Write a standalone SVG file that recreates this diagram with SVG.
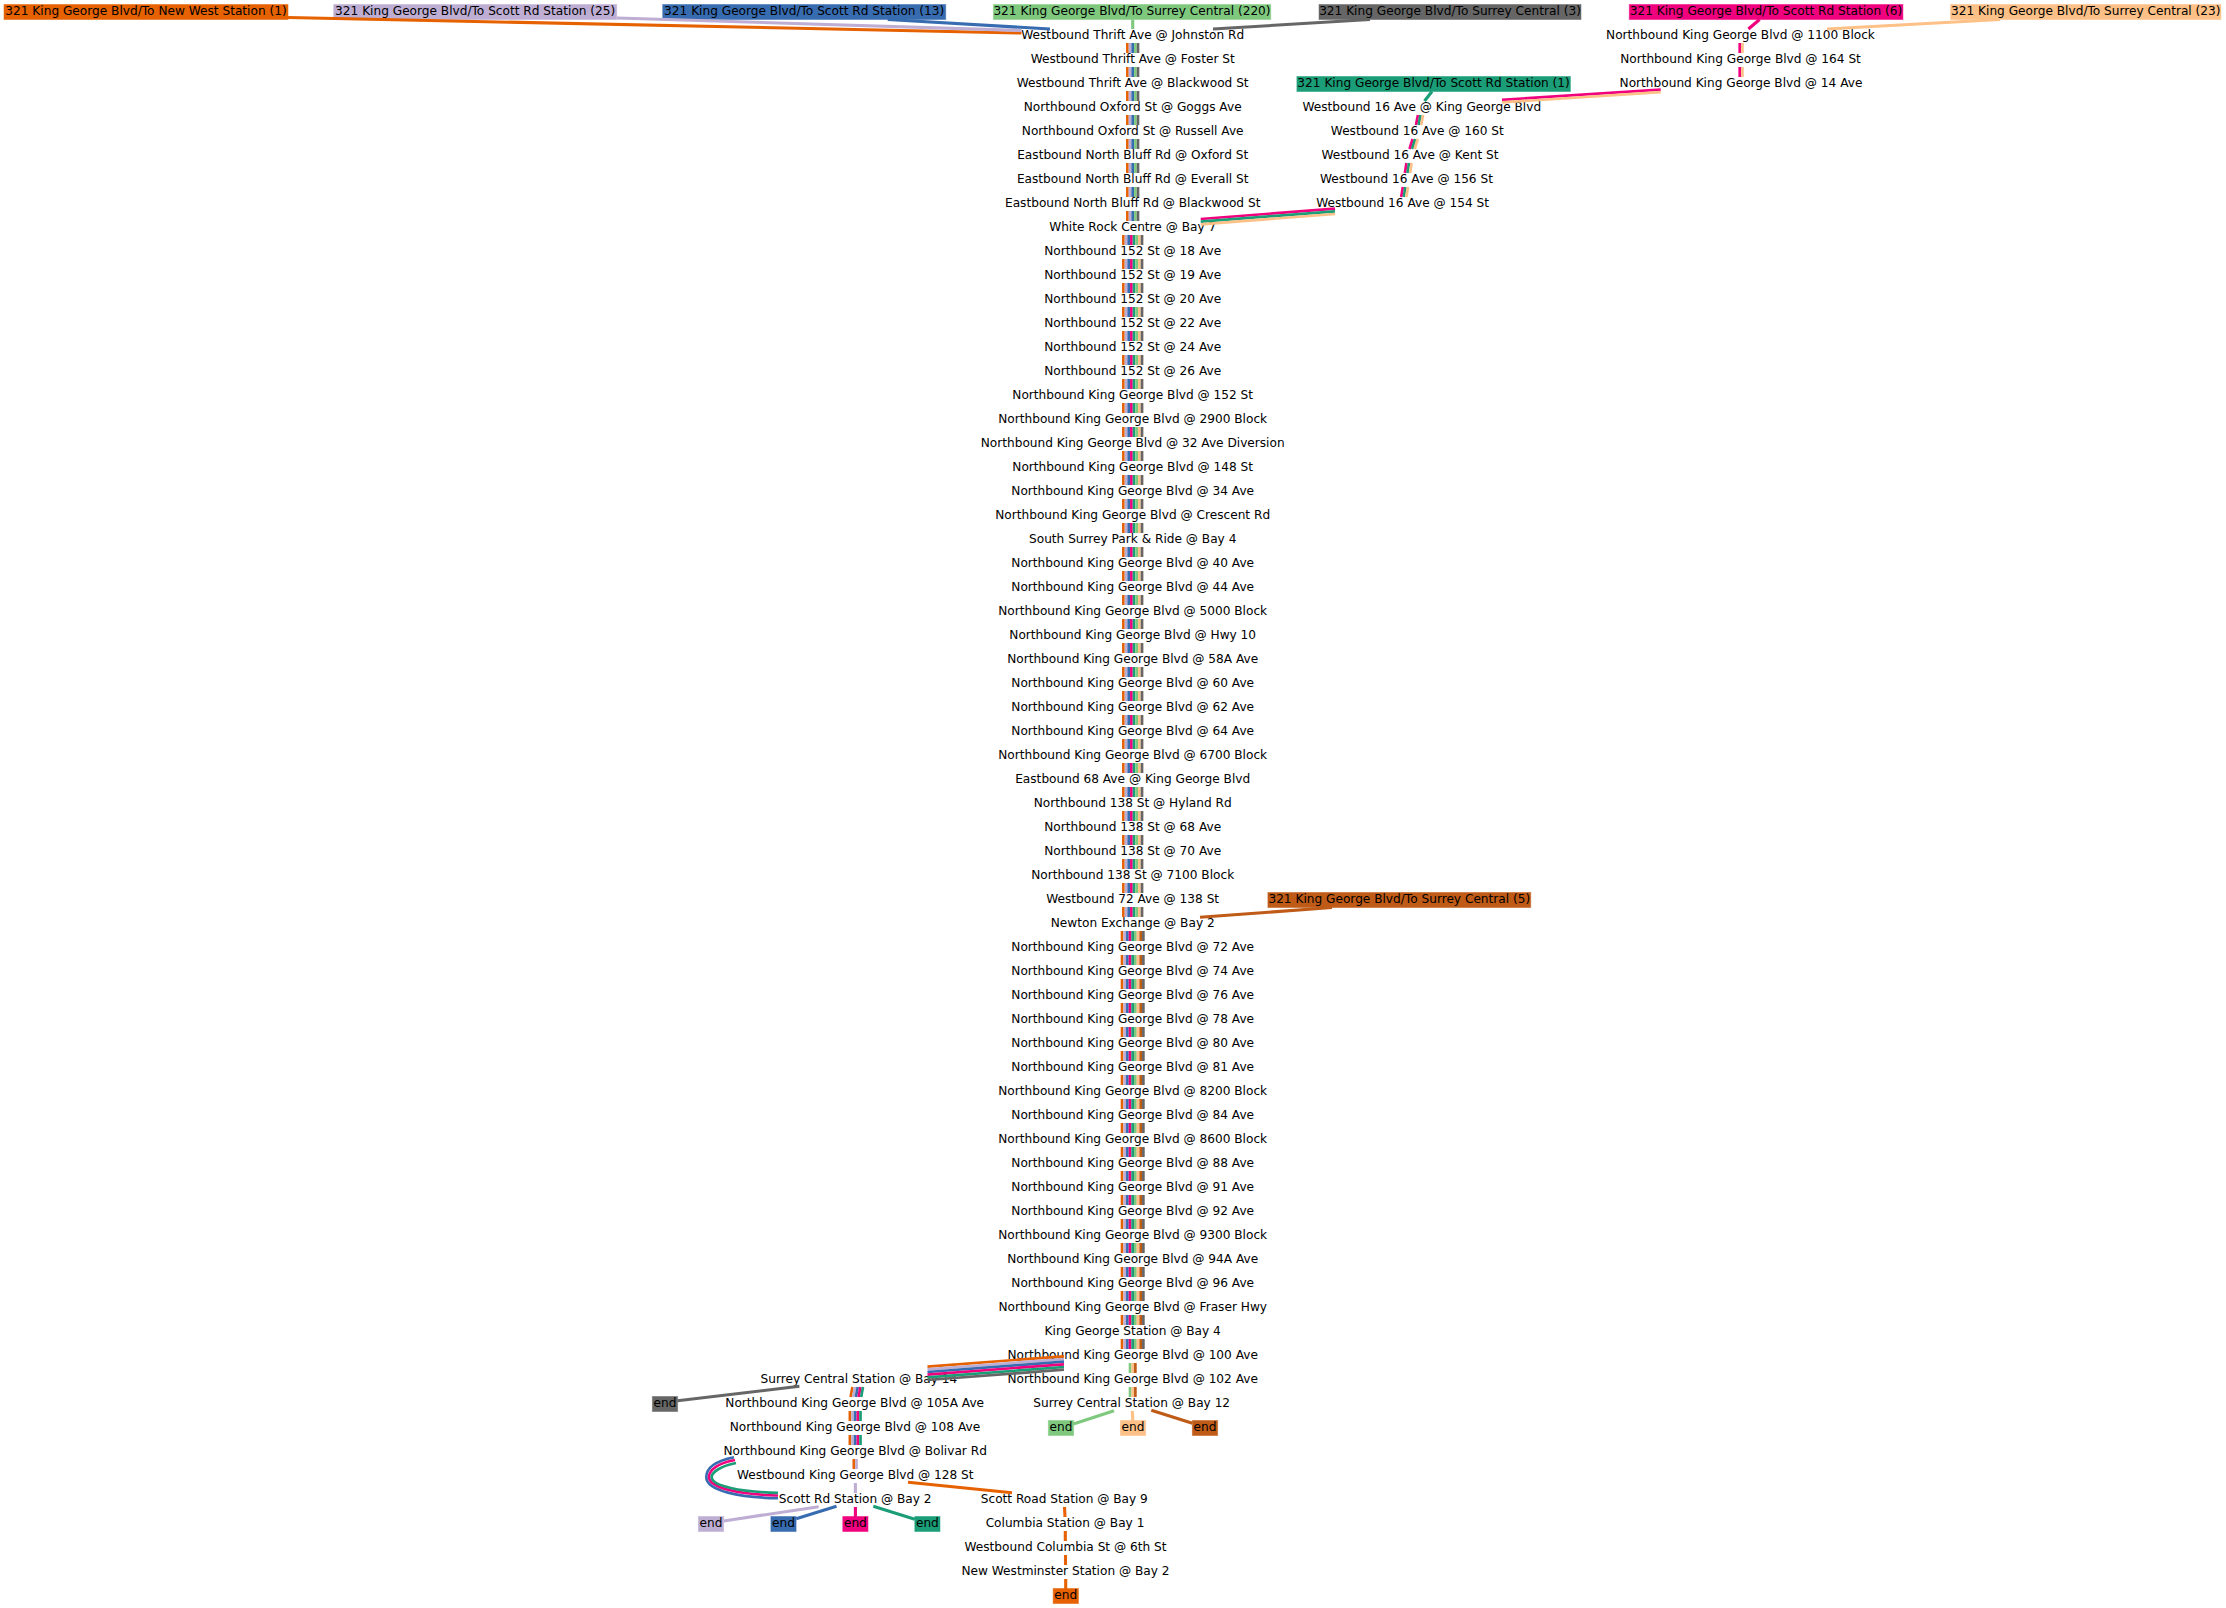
<svg xmlns="http://www.w3.org/2000/svg" width="2226" height="1608" viewBox="0 0 2226 1608">
<style>
text{font-family:"DejaVu Sans",sans-serif;font-size:12.15px;fill:#000;text-anchor:middle;transform:translateY(-.8px)}
line,path{stroke-width:2.67;fill:none}
.w{stroke-width:3.1}
rect{stroke-width:1;stroke-opacity:.5}
.o{stroke:#e66100}.l{stroke:#beaed4}.b{stroke:#386cb0}.g{stroke:#7fc97f}.k{stroke:#666666}.p{stroke:#f0027f}.t{stroke:#1b9e77}.h{stroke:#fdc086}.n{stroke:#bf5b17}
.fo{fill:#e66100;stroke:#e66100}.fl{fill:#beaed4;stroke:#beaed4}.fb{fill:#386cb0;stroke:#386cb0}.fg{fill:#7fc97f;stroke:#7fc97f}.fk{fill:#666666;stroke:#666666}.fp{fill:#f0027f;stroke:#f0027f}.ft{fill:#1b9e77;stroke:#1b9e77}.fh{fill:#fdc086;stroke:#fdc086}.fn{fill:#bf5b17;stroke:#bf5b17}
</style>
<defs>
<g id="s5"><line class="o" x1="1127.37" x2="1127.37" y2="10"/><line class="l" x1="1130.03" x2="1130.03" y2="10"/><line class="b" x1="1132.7" x2="1132.7" y2="10"/><line class="g" x1="1135.37" x2="1135.37" y2="10"/><line class="k" x1="1138.03" x2="1138.03" y2="10"/></g>
<g id="s8"><line class="o" x1="1123.37" x2="1123.37" y2="10"/><line class="l" x1="1126.03" x2="1126.03" y2="10"/><line class="b" x1="1128.7" x2="1128.7" y2="10"/><line class="p" x1="1131.37" x2="1131.37" y2="10"/><line class="t" x1="1134.03" x2="1134.03" y2="10"/><line class="g" x1="1136.7" x2="1136.7" y2="10"/><line class="h" x1="1139.37" x2="1139.37" y2="10"/><line class="k" x1="1142.03" x2="1142.03" y2="10"/></g>
<g id="s9"><line class="o" x1="1122.03" x2="1122.03" y2="10"/><line class="l" x1="1124.7" x2="1124.7" y2="10"/><line class="b" x1="1127.37" x2="1127.37" y2="10"/><line class="p" x1="1130.03" x2="1130.03" y2="10"/><line class="t" x1="1132.7" x2="1132.7" y2="10"/><line class="g" x1="1135.37" x2="1135.37" y2="10"/><line class="h" x1="1138.03" x2="1138.03" y2="10"/><line class="n" x1="1140.7" x2="1140.7" y2="10"/><line class="k" x1="1143.37" x2="1143.37" y2="10"/></g>
<g id="s3"><line class="g" x1="1130.03" x2="1130.03" y2="10"/><line class="h" x1="1132.7" x2="1132.7" y2="10"/><line class="n" x1="1135.37" x2="1135.37" y2="10"/></g>
<g id="s5b"><line class="o" x1="849.87" x2="849.87" y2="10"/><line class="l" x1="852.53" x2="852.53" y2="10"/><line class="b" x1="855.2" x2="855.2" y2="10"/><line class="p" x1="857.87" x2="857.87" y2="10"/><line class="t" x1="860.53" x2="860.53" y2="10"/></g>
</defs>
<rect width="2226" height="1608" fill="#fff" stroke="none"/>
<g id="nodes">
<g id="r1"><rect class="fo" x="4" y="4.5" width="284" height="15"/><text x="146" y="15.5">321 King George Blvd/To New West Station (1)</text></g>
<g id="r2"><rect class="fl" x="333.7" y="4.5" width="283" height="15"/><text x="475.2" y="15.5">321 King George Blvd/To Scott Rd Station (25)</text></g>
<g id="r3"><rect class="fb" x="662.7" y="4.5" width="283" height="15"/><text x="804.2" y="15.5">321 King George Blvd/To Scott Rd Station (13)</text></g>
<g id="r4"><rect class="fg" x="993.4" y="4.5" width="277.3" height="15"/><text x="1132" y="15.5">321 King George Blvd/To Surrey Central (220)</text></g>
<g id="r5"><rect class="fk" x="1319" y="4.5" width="262" height="15"/><text x="1450" y="15.5">321 King George Blvd/To Surrey Central (3)</text></g>
<g id="r6"><rect class="fp" x="1629.3" y="4.5" width="273.6" height="15"/><text x="1766" y="15.5">321 King George Blvd/To Scott Rd Station (6)</text></g>
<g id="r7"><rect class="fh" x="1950.6" y="4.5" width="270.3" height="15"/><text x="2085.8" y="15.5">321 King George Blvd/To Surrey Central (23)</text></g>
<g id="r8"><rect class="ft" x="1296.9" y="76.5" width="273.5" height="15"/><text x="1433.6" y="87.5">321 King George Blvd/To Scott Rd Station (1)</text></g>
<g id="r9"><rect class="fn" x="1267.9" y="892.5" width="262.8" height="15"/><text x="1399.3" y="903.5">321 King George Blvd/To Surrey Central (5)</text></g>
<g id="m1"><text x="1132.7" y="39.5">Westbound Thrift Ave @ Johnston Rd</text></g>
<g id="m2"><text x="1132.7" y="63.5">Westbound Thrift Ave @ Foster St</text></g>
<g id="m3"><text x="1132.7" y="87.5">Westbound Thrift Ave @ Blackwood St</text></g>
<g id="m4"><text x="1132.7" y="111.5">Northbound Oxford St @ Goggs Ave</text></g>
<g id="m5"><text x="1132.7" y="135.5">Northbound Oxford St @ Russell Ave</text></g>
<g id="m6"><text x="1132.7" y="159.5">Eastbound North Bluff Rd @ Oxford St</text></g>
<g id="m7"><text x="1132.7" y="183.5">Eastbound North Bluff Rd @ Everall St</text></g>
<g id="m8"><text x="1132.7" y="207.5">Eastbound North Bluff Rd @ Blackwood St</text></g>
<g id="m9"><text x="1132.7" y="231.5">White Rock Centre @ Bay 7</text></g>
<g id="m10"><text x="1132.7" y="255.5">Northbound 152 St @ 18 Ave</text></g>
<g id="m11"><text x="1132.7" y="279.5">Northbound 152 St @ 19 Ave</text></g>
<g id="m12"><text x="1132.7" y="303.5">Northbound 152 St @ 20 Ave</text></g>
<g id="m13"><text x="1132.7" y="327.5">Northbound 152 St @ 22 Ave</text></g>
<g id="m14"><text x="1132.7" y="351.5">Northbound 152 St @ 24 Ave</text></g>
<g id="m15"><text x="1132.7" y="375.5">Northbound 152 St @ 26 Ave</text></g>
<g id="m16"><text x="1132.7" y="399.5">Northbound King George Blvd @ 152 St</text></g>
<g id="m17"><text x="1132.7" y="423.5">Northbound King George Blvd @ 2900 Block</text></g>
<g id="m18"><text x="1132.7" y="447.5">Northbound King George Blvd @ 32 Ave Diversion</text></g>
<g id="m19"><text x="1132.7" y="471.5">Northbound King George Blvd @ 148 St</text></g>
<g id="m20"><text x="1132.7" y="495.5">Northbound King George Blvd @ 34 Ave</text></g>
<g id="m21"><text x="1132.7" y="519.5">Northbound King George Blvd @ Crescent Rd</text></g>
<g id="m22"><text x="1132.7" y="543.5">South Surrey Park &amp; Ride @ Bay 4</text></g>
<g id="m23"><text x="1132.7" y="567.5">Northbound King George Blvd @ 40 Ave</text></g>
<g id="m24"><text x="1132.7" y="591.5">Northbound King George Blvd @ 44 Ave</text></g>
<g id="m25"><text x="1132.7" y="615.5">Northbound King George Blvd @ 5000 Block</text></g>
<g id="m26"><text x="1132.7" y="639.5">Northbound King George Blvd @ Hwy 10</text></g>
<g id="m27"><text x="1132.7" y="663.5">Northbound King George Blvd @ 58A Ave</text></g>
<g id="m28"><text x="1132.7" y="687.5">Northbound King George Blvd @ 60 Ave</text></g>
<g id="m29"><text x="1132.7" y="711.5">Northbound King George Blvd @ 62 Ave</text></g>
<g id="m30"><text x="1132.7" y="735.5">Northbound King George Blvd @ 64 Ave</text></g>
<g id="m31"><text x="1132.7" y="759.5">Northbound King George Blvd @ 6700 Block</text></g>
<g id="m32"><text x="1132.7" y="783.5">Eastbound 68 Ave @ King George Blvd</text></g>
<g id="m33"><text x="1132.7" y="807.5">Northbound 138 St @ Hyland Rd</text></g>
<g id="m34"><text x="1132.7" y="831.5">Northbound 138 St @ 68 Ave</text></g>
<g id="m35"><text x="1132.7" y="855.5">Northbound 138 St @ 70 Ave</text></g>
<g id="m36"><text x="1132.7" y="879.5">Northbound 138 St @ 7100 Block</text></g>
<g id="m37"><text x="1132.7" y="903.5">Westbound 72 Ave @ 138 St</text></g>
<g id="m38"><text x="1132.7" y="927.5">Newton Exchange @ Bay 2</text></g>
<g id="m39"><text x="1132.7" y="951.5">Northbound King George Blvd @ 72 Ave</text></g>
<g id="m40"><text x="1132.7" y="975.5">Northbound King George Blvd @ 74 Ave</text></g>
<g id="m41"><text x="1132.7" y="999.5">Northbound King George Blvd @ 76 Ave</text></g>
<g id="m42"><text x="1132.7" y="1023.5">Northbound King George Blvd @ 78 Ave</text></g>
<g id="m43"><text x="1132.7" y="1047.5">Northbound King George Blvd @ 80 Ave</text></g>
<g id="m44"><text x="1132.7" y="1071.5">Northbound King George Blvd @ 81 Ave</text></g>
<g id="m45"><text x="1132.7" y="1095.5">Northbound King George Blvd @ 8200 Block</text></g>
<g id="m46"><text x="1132.7" y="1119.5">Northbound King George Blvd @ 84 Ave</text></g>
<g id="m47"><text x="1132.7" y="1143.5">Northbound King George Blvd @ 8600 Block</text></g>
<g id="m48"><text x="1132.7" y="1167.5">Northbound King George Blvd @ 88 Ave</text></g>
<g id="m49"><text x="1132.7" y="1191.5">Northbound King George Blvd @ 91 Ave</text></g>
<g id="m50"><text x="1132.7" y="1215.5">Northbound King George Blvd @ 92 Ave</text></g>
<g id="m51"><text x="1132.7" y="1239.5">Northbound King George Blvd @ 9300 Block</text></g>
<g id="m52"><text x="1132.7" y="1263.5">Northbound King George Blvd @ 94A Ave</text></g>
<g id="m53"><text x="1132.7" y="1287.5">Northbound King George Blvd @ 96 Ave</text></g>
<g id="m54"><text x="1132.7" y="1311.5">Northbound King George Blvd @ Fraser Hwy</text></g>
<g id="m55"><text x="1132.7" y="1335.5">King George Station @ Bay 4</text></g>
<g id="m56"><text x="1132.7" y="1359.5">Northbound King George Blvd @ 100 Ave</text></g>
<g id="m57"><text x="1132.7" y="1383.5">Northbound King George Blvd @ 102 Ave</text></g>
<g id="m58"><text x="1131.7" y="1407.5">Surrey Central Station @ Bay 12</text></g>
<g id="c1"><text x="1421.8" y="111.5">Westbound 16 Ave @ King George Blvd</text></g>
<g id="c2"><text x="1417.3" y="135.5">Westbound 16 Ave @ 160 St</text></g>
<g id="c3"><text x="1410" y="159.5">Westbound 16 Ave @ Kent St</text></g>
<g id="c4"><text x="1406.5" y="183.5">Westbound 16 Ave @ 156 St</text></g>
<g id="c5"><text x="1402.6" y="207.5">Westbound 16 Ave @ 154 St</text></g>
<g id="d1"><text x="1740.5" y="39.5">Northbound King George Blvd @ 1100 Block</text></g>
<g id="d2"><text x="1740.5" y="63.5">Northbound King George Blvd @ 164 St</text></g>
<g id="d3"><text x="1741" y="87.5">Northbound King George Blvd @ 14 Ave</text></g>
<g id="s1"><text x="858.9" y="1383.5">Surrey Central Station @ Bay 14</text></g>
<g id="s2"><text x="854.7" y="1407.5">Northbound King George Blvd @ 105A Ave</text></g>
<g id="s3n"><text x="854.9" y="1431.5">Northbound King George Blvd @ 108 Ave</text></g>
<g id="s4"><text x="855.2" y="1455.5">Northbound King George Blvd @ Bolivar Rd</text></g>
<g id="s5n"><text x="855.3" y="1479.5">Westbound King George Blvd @ 128 St</text></g>
<g id="s6"><text x="855.2" y="1503.5">Scott Rd Station @ Bay 2</text></g>
<g id="w1"><text x="1064.3" y="1503.5">Scott Road Station @ Bay 9</text></g>
<g id="w2"><text x="1065" y="1527.5">Columbia Station @ Bay 1</text></g>
<g id="w3"><text x="1065.5" y="1551.5">Westbound Columbia St @ 6th St</text></g>
<g id="w4"><text x="1065.5" y="1575.5">New Westminster Station @ Bay 2</text></g>
<g id="e1"><rect class="fk" x="652.4" y="1396.5" width="25.2" height="15"/><text x="665" y="1407.5">end</text></g>
<g id="e2"><rect class="fg" x="1048.4" y="1420.5" width="25.2" height="15"/><text x="1061" y="1431.5">end</text></g>
<g id="e3"><rect class="fh" x="1120.4" y="1420.5" width="25.2" height="15"/><text x="1133" y="1431.5">end</text></g>
<g id="e4"><rect class="fn" x="1192.4" y="1420.5" width="25.2" height="15"/><text x="1205" y="1431.5">end</text></g>
<g id="e5"><rect class="fl" x="698.4" y="1516.5" width="25.2" height="15"/><text x="711" y="1527.5">end</text></g>
<g id="e6"><rect class="fb" x="770.9" y="1516.5" width="25.2" height="15"/><text x="783.5" y="1527.5">end</text></g>
<g id="e7"><rect class="fp" x="842.8" y="1516.5" width="25.2" height="15"/><text x="855.4" y="1527.5">end</text></g>
<g id="e8"><rect class="ft" x="914.8" y="1516.5" width="25.2" height="15"/><text x="927.4" y="1527.5">end</text></g>
<g id="e9"><rect class="fo" x="1053.2" y="1588.5" width="25.2" height="15"/><text x="1065.8" y="1599.5">end</text></g>
</g>
<g id="connectors">
<line class="o w" x1="288" y1="17.5" x2="1021.5" y2="33"/>
<line class="l w" x1="617" y1="18" x2="1021.5" y2="30.5"/>
<line class="b w" x1="887.7" y1="19.5" x2="1050" y2="29"/>
<line class="g w" x1="1132.7" y1="19.5" x2="1132.7" y2="29"/>
<line class="k w" x1="1370" y1="19.5" x2="1213" y2="29"/>
<line class="p w" x1="1759.6" y1="19.5" x2="1748.4" y2="29"/>
<line class="h w" x1="2000" y1="19.5" x2="1827" y2="29"/>
<line class="t w" x1="1432" y1="91.5" x2="1424.5" y2="101"/>
<line class="n w" x1="1332" y1="907.5" x2="1200" y2="917.3"/>
<use href="#s5" y="43"/><use href="#s5" y="67"/><use href="#s5" y="91"/><use href="#s5" y="115"/><use href="#s5" y="139"/><use href="#s5" y="163"/><use href="#s5" y="187"/><use href="#s5" y="211"/>
<use href="#s8" y="235"/><use href="#s8" y="259"/><use href="#s8" y="283"/><use href="#s8" y="307"/><use href="#s8" y="331"/><use href="#s8" y="355"/><use href="#s8" y="379"/><use href="#s8" y="403"/><use href="#s8" y="427"/><use href="#s8" y="451"/><use href="#s8" y="475"/><use href="#s8" y="499"/><use href="#s8" y="523"/><use href="#s8" y="547"/><use href="#s8" y="571"/><use href="#s8" y="595"/><use href="#s8" y="619"/><use href="#s8" y="643"/><use href="#s8" y="667"/><use href="#s8" y="691"/><use href="#s8" y="715"/><use href="#s8" y="739"/><use href="#s8" y="763"/><use href="#s8" y="787"/><use href="#s8" y="811"/><use href="#s8" y="835"/><use href="#s8" y="859"/><use href="#s8" y="883"/><use href="#s8" y="907"/>
<use href="#s9" y="931"/><use href="#s9" y="955"/><use href="#s9" y="979"/><use href="#s9" y="1003"/><use href="#s9" y="1027"/><use href="#s9" y="1051"/><use href="#s9" y="1075"/><use href="#s9" y="1099"/><use href="#s9" y="1123"/><use href="#s9" y="1147"/><use href="#s9" y="1171"/><use href="#s9" y="1195"/><use href="#s9" y="1219"/><use href="#s9" y="1243"/><use href="#s9" y="1267"/><use href="#s9" y="1291"/><use href="#s9" y="1315"/><use href="#s9" y="1339"/>
<use href="#s3" y="1363"/><use href="#s3" y="1387"/>
<line class="p" x1="1739.7" y1="43" x2="1739.7" y2="53"/><line class="h" x1="1742.4" y1="43" x2="1742.4" y2="53"/>
<line class="p" x1="1739.7" y1="67" x2="1739.7" y2="77"/><line class="h" x1="1742.4" y1="67" x2="1742.4" y2="77"/>
<line class="p" x1="1660.7" y1="89.6" x2="1502" y2="99.8"/><line class="h" x1="1660.7" y1="92.2" x2="1502" y2="102.4"/>
<line class="p" x1="1417.9" y1="115" x2="1416" y2="125"/><line class="t" x1="1420.5" y1="115" x2="1418.6" y2="125"/><line class="h" x1="1423.1" y1="115" x2="1421.2" y2="125"/>
<line class="p" x1="1412.6" y1="139" x2="1409.5" y2="149"/><line class="t" x1="1415.2" y1="139" x2="1412.1" y2="149"/><line class="h" x1="1417.8" y1="139" x2="1414.7" y2="149"/>
<line class="p" x1="1406.4" y1="163" x2="1404.9" y2="173"/><line class="t" x1="1409" y1="163" x2="1407.5" y2="173"/><line class="h" x1="1411.6" y1="163" x2="1410.1" y2="173"/>
<line class="p" x1="1402.8" y1="187" x2="1401.2" y2="197"/><line class="t" x1="1405.4" y1="187" x2="1403.8" y2="197"/><line class="h" x1="1408" y1="187" x2="1406.4" y2="197"/>
<line class="p" x1="1335" y1="208.6" x2="1200.7" y2="219"/><line class="t" x1="1335" y1="211.3" x2="1200.7" y2="221.7"/><line class="h" x1="1335" y1="214" x2="1200.7" y2="224.4"/>
<line class="o" x1="1064" y1="1356.3" x2="927.5" y2="1366.6"/><line class="l" x1="1064" y1="1359" x2="927.5" y2="1369.3"/><line class="b" x1="1064" y1="1361.7" x2="927.5" y2="1372"/><line class="p" x1="1064" y1="1364.3" x2="927.5" y2="1374.6"/><line class="t" x1="1064" y1="1367" x2="927.5" y2="1377.3"/><line class="k" x1="1064" y1="1369.7" x2="927.5" y2="1380"/>
<line class="o" x1="852.4" y1="1387" x2="850.6" y2="1397"/><line class="l" x1="855" y1="1387" x2="853.2" y2="1397"/><line class="b" x1="857.7" y1="1387" x2="855.9" y2="1397"/><line class="p" x1="860.4" y1="1387" x2="858.6" y2="1397"/><line class="t" x1="863" y1="1387" x2="861.2" y2="1397"/>
<line class="k w" x1="799.4" y1="1386.3" x2="677.6" y2="1400.7"/>
<use href="#s5b" y="1411"/><use href="#s5b" y="1435"/>
<line class="o" x1="853.8" y1="1459" x2="853.8" y2="1469"/><line class="l" x1="856.5" y1="1459" x2="856.5" y2="1469"/>
<line class="l w" x1="855.4" y1="1483" x2="855.4" y2="1493"/>
<line class="o w" x1="908" y1="1482.3" x2="1012" y2="1492.7"/>
<path class="b" d="M734,1457.3C716,1461 706.3,1468 706.3,1477C706.3,1491 740,1497.5 778,1498.2"/>
<path class="p" d="M735,1460C718,1463 709,1470 709,1477C709,1488 740,1494.5 778,1495.5"/>
<path class="t" d="M736,1463C721,1466 711.7,1472 711.7,1477C711.7,1486 740,1492 778,1492.8"/>
<line class="l w" x1="818.7" y1="1506.7" x2="723.8" y2="1521"/>
<line class="b w" x1="836.5" y1="1506.3" x2="796.2" y2="1518.7"/>
<line class="p w" x1="855.4" y1="1507" x2="855.4" y2="1517"/>
<line class="t w" x1="873.3" y1="1506.3" x2="914.8" y2="1519.3"/>
<line class="g w" x1="1114" y1="1410.7" x2="1073.4" y2="1424"/>
<line class="h w" x1="1132.3" y1="1411" x2="1132.8" y2="1421"/>
<line class="n w" x1="1151.3" y1="1410.3" x2="1192.4" y2="1423.3"/>
<line class="o w" x1="1064.5" y1="1507" x2="1065" y2="1517"/>
<line class="o w" x1="1065.3" y1="1531" x2="1065.3" y2="1541"/>
<line class="o w" x1="1065.5" y1="1555" x2="1065.5" y2="1565"/>
<line class="o w" x1="1065.7" y1="1579" x2="1065.7" y2="1589"/>
</g>
</svg>
